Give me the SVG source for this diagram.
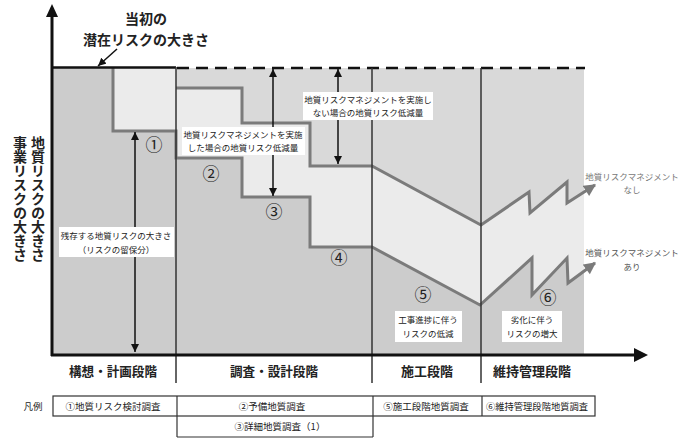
<svg xmlns="http://www.w3.org/2000/svg" width="692" height="438" viewBox="0 0 692 438">
<defs>
<style>
text{font-family:"Noto Sans CJK JP","Noto Sans",sans-serif;}
.s{font-size:8.5px;fill:#222;text-anchor:middle;}
.ph{font-size:13px;font-weight:bold;fill:#222;text-anchor:middle;}
.lg{font-size:9.5px;fill:#222;text-anchor:middle;}
.num{font-size:17px;fill:#222;text-anchor:middle;}
.big{font-size:14px;font-weight:bold;fill:#222;text-anchor:middle;}
.vt{font-size:14px;font-weight:bold;fill:#222;writing-mode:vertical-rl;}
.gl{fill:none;stroke:#7b7b7b;stroke-width:3;stroke-linejoin:miter;}
.dv{stroke:#333;stroke-width:1.5;}
.va{stroke:#111;stroke-width:1.5;}
.box{fill:#fff;}
.lb{fill:none;stroke:#333;stroke-width:1.2;}
</style>
<marker id="ah" viewBox="0 0 10 10" refX="10" refY="5" markerWidth="8" markerHeight="8" markerUnits="userSpaceOnUse" orient="auto-start-reverse">
<path d="M0,0 L10,5 L0,10 z" fill="#111"/>
</marker>
<marker id="ga" viewBox="0 0 10 10" refX="9" refY="5" markerWidth="13" markerHeight="12" markerUnits="userSpaceOnUse" orient="auto">
<path d="M0,0 L10,5 L0,10 z" fill="#7b7b7b"/>
</marker>
</defs>

<g id="background">
<rect x="52" y="68" width="532" height="287" fill="#d9d9d9"/>
<polygon fill="#ebebeb" points="52,68 176,68 176,88 242,88 242,123 310,123 310,166 372,166 481,225 529,192 530,213 567,182 567,203 584,192 584,355 52,355"/>
<polygon fill="#cccccc" points="52,68 113,68 113,131 176,131 176,158 242,158 242,197 310,197 310,247 372,247 480,305 532,258 532,295 567,258 568,283 584,272 584,355 52,355"/>
</g>

<g id="connectors">
<polyline class="gl" points="176,88 242,88 242,123 310,123 310,166 372,166 481,225 529,192 530,213 567,182 567,203 595,185" marker-end="url(#ga)"/>
<polyline class="gl" points="113,68 113,131 176,131 176,158 242,158 242,197 310,197 310,247 372,247 480,305 532,258 532,295 567,258 568,283 595,263" marker-end="url(#ga)"/>
<line x1="52" y1="67.5" x2="176" y2="67.5" stroke="#111" stroke-width="2.5"/>
<line x1="177" y1="68" x2="585" y2="68" stroke="#111" stroke-width="2.5" stroke-dasharray="12,7"/>
<line class="dv" x1="176" y1="67" x2="176" y2="383" stroke-width="2"/>
<line class="dv" x1="372" y1="68" x2="372" y2="383"/>
<line class="dv" x1="481" y1="68" x2="481" y2="383"/>
<line class="va" x1="135" y1="132" x2="135" y2="352" marker-start="url(#ah)" marker-end="url(#ah)"/>
<line class="va" x1="273" y1="69" x2="273" y2="196" marker-start="url(#ah)" marker-end="url(#ah)"/>
<line class="va" x1="338" y1="69" x2="338" y2="164" marker-start="url(#ah)" marker-end="url(#ah)"/>
<line class="va" x1="117" y1="49" x2="98" y2="66" marker-end="url(#ah)"/>
<line x1="52" y1="15" x2="52" y2="356" stroke="#111" stroke-width="3"/>
<polygon points="52,4 46,17 58,17" fill="#111"/>
<line x1="51" y1="355" x2="636" y2="355" stroke="#111" stroke-width="3"/>
<polygon points="648,355 634,348 634,362" fill="#111"/>
</g>

<g id="title">
<text class="big" x="146" y="24">当初の</text>
<text class="big" x="146" y="45">潜在リスクの大きさ</text>
</g>

<g id="yaxis-label">
<text class="vt" x="38" y="136">地質リスクの大きさ</text>
<text class="vt" x="20" y="136">事業リスクの大きさ</text>
</g>

<g id="label-residual">
<rect class="box" x="59" y="227" width="115" height="30"/>
<text class="s" x="116" y="239">残存する地質リスクの大きさ</text>
<text class="s" x="116" y="253">（リスクの留保分）</text>
</g>

<g id="label-with">
<rect class="box" x="182" y="127" width="123" height="28"/>
<text class="s" x="243" y="138">地質リスクマネジメントを実施</text>
<text class="s" x="243" y="151">した場合の地質リスク低減量</text>
</g>

<g id="label-without">
<rect class="box" x="303" y="92" width="130" height="28"/>
<text class="s" x="368" y="103">地質リスクマネジメントを実施し</text>
<text class="s" x="368" y="116">ない場合の地質リスク低減量</text>
</g>

<g id="label-construction">
<rect class="box" x="395" y="311" width="67" height="31"/>
<text class="s" x="428" y="323">工事進捗に伴う</text>
<text class="s" x="428" y="337">リスクの低減</text>
</g>

<g id="label-deterioration">
<rect class="box" x="502" y="311" width="60" height="31"/>
<text class="s" x="532" y="323">劣化に伴う</text>
<text class="s" x="532" y="337">リスクの増大</text>
</g>

<g id="label-nashi">
<text class="s" x="632" y="180" style="fill:#777">地質リスクマネジメント</text>
<text class="s" x="632" y="193" style="fill:#777">なし</text>
</g>
<g id="label-ari">
<text class="s" x="632" y="256" style="fill:#555">地質リスクマネジメント</text>
<text class="s" x="632" y="270" style="fill:#555">あり</text>
</g>

<g id="numbers">
<text class="num" x="154" y="151">①</text>
<text class="num" x="211" y="180">②</text>
<text class="num" x="274" y="218">③</text>
<text class="num" x="339" y="264">④</text>
<text class="num" x="423" y="301">⑤</text>
<text class="num" x="548" y="304">⑥</text>
</g>

<g id="phases">
<text class="ph" x="113" y="376" textLength="88" lengthAdjust="spacingAndGlyphs">構想・計画段階</text>
<text class="ph" x="274" y="376" textLength="88" lengthAdjust="spacingAndGlyphs">調査・設計段階</text>
<text class="ph" x="427" y="376">施工段階</text>
<text class="ph" x="532" y="376">維持管理段階</text>
</g>

<g id="legend">
<text class="lg" x="33" y="410">凡例</text>
<rect class="lb" x="53" y="396" width="542" height="20"/>
<line class="lb" x1="177" y1="396" x2="177" y2="437"/>
<line class="lb" x1="373" y1="396" x2="373" y2="437"/>
<line class="lb" x1="482" y1="396" x2="482" y2="416"/>
<line class="lb" x1="177" y1="437" x2="373" y2="437"/>
<text class="lg" x="113" y="410">①地質リスク検討調査</text>
<text class="lg" x="272" y="410">②予備地質調査</text>
<text class="lg" x="426" y="410">⑤施工段階地質調査</text>
<text class="lg" x="537" y="410" textLength="102" lengthAdjust="spacingAndGlyphs">⑥維持管理段階地質調査</text>
<text class="lg" x="280" y="430">③詳細地質調査（1）</text>
</g>
</svg>
